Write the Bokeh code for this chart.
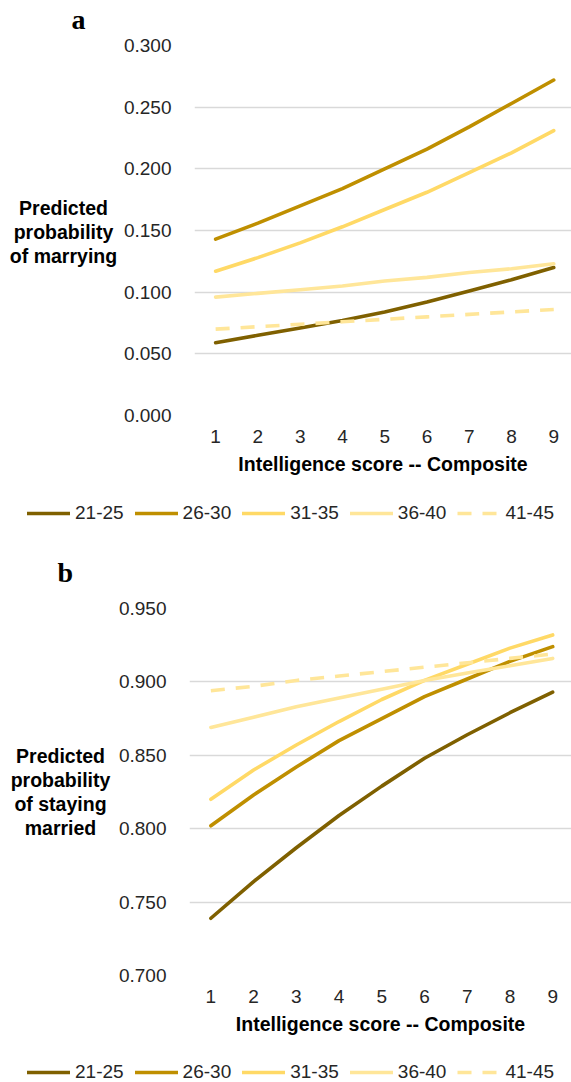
from bokeh.plotting import figure
from bokeh.models import (Range1d, FixedTicker, NumeralTickFormatter, Legend, LegendItem,
                          Label, ColumnDataSource)
from bokeh.layouts import column, row
from bokeh.embed import file_html
from bokeh.resources import INLINE

scores = [1, 2, 3, 4, 5, 6, 7, 8, 9]
groups = ["21-25", "26-30", "31-35", "36-40", "41-45"]

# Panel a: predicted probability of marrying
marry_21_25 = [0.059, 0.065, 0.071, 0.077, 0.084, 0.092, 0.101, 0.110, 0.120]
marry_26_30 = [0.143, 0.156, 0.170, 0.184, 0.200, 0.216, 0.234, 0.253, 0.272]
marry_31_35 = [0.117, 0.128, 0.140, 0.153, 0.167, 0.181, 0.197, 0.213, 0.231]
marry_36_40 = [0.096, 0.099, 0.102, 0.105, 0.109, 0.112, 0.116, 0.119, 0.123]
marry_41_45 = [0.070, 0.072, 0.074, 0.076, 0.078, 0.080, 0.082, 0.084, 0.086]

# Panel b: predicted probability of staying married
stay_21_25 = [0.739, 0.764, 0.787, 0.809, 0.829, 0.848, 0.864, 0.879, 0.893]
stay_26_30 = [0.802, 0.823, 0.842, 0.860, 0.875, 0.890, 0.902, 0.914, 0.924]
stay_31_35 = [0.820, 0.840, 0.857, 0.873, 0.888, 0.901, 0.912, 0.923, 0.932]
stay_36_40 = [0.869, 0.876, 0.883, 0.889, 0.895, 0.901, 0.906, 0.911, 0.916]
stay_41_45 = [0.894, 0.897, 0.901, 0.904, 0.907, 0.910, 0.913, 0.916, 0.919]

y_ticks_a = [0.0, 0.05, 0.10, 0.15, 0.20, 0.25, 0.30]
y_ticks_b = [0.70, 0.75, 0.80, 0.85, 0.90, 0.95]

colors = ["#7F6000", "#BF8F00", "#FFD966", "#FFE699", "#FFE699"]
dashes = ["solid", "solid", "solid", "solid", "14 11"]

FONT = "Liberation Sans"
SERIF = "Liberation Serif"


def blank_fig(width, height, border_top=0, border_bottom=0, x0=0):
    f = figure(width=width, height=height, output_backend="svg", toolbar_location=None,
               x_axis_location=None, y_axis_location=None,
               x_range=Range1d(x0, x0 + width), y_range=Range1d(0, height),
               min_border_left=0, min_border_right=0,
               min_border_top=border_top, min_border_bottom=border_bottom,
               background_fill_color="white", border_fill_color="white")
    f.outline_line_color = None
    f.grid.visible = False
    return f


def chart(series, width, height, border_left, border_top, border_bottom, x_end, y_range,
          y_ticks):
    p = figure(width=width, height=height, output_backend="svg", toolbar_location=None,
               x_range=Range1d(0.5, x_end), y_range=Range1d(*y_range),
               min_border_left=border_left, min_border_right=0,
               min_border_top=border_top, min_border_bottom=border_bottom,
               background_fill_color="white", border_fill_color="white")
    p.outline_line_color = None
    p.xgrid.grid_line_color = None
    p.ygrid.grid_line_color = "#D9D9D9"
    p.ygrid.grid_line_width = 1.5
    p.ygrid.ticker = FixedTicker(ticks=y_ticks)

    for vals, c, d in zip(series, colors, dashes):
        src = ColumnDataSource(dict(x=scores, y=vals))
        p.line("x", "y", source=src, line_color=c, line_width=3.6, line_dash=d,
               line_cap="round" if d == "solid" else "butt")

    xa = p.xaxis[0]
    xa.ticker = FixedTicker(ticks=scores)
    xa.axis_line_color = None
    xa.major_tick_line_color = None
    xa.minor_tick_line_color = None
    xa.major_label_text_font = FONT
    xa.major_label_text_font_size = "19px"
    xa.major_label_text_color = "#262626"
    xa.major_label_standoff = 8
    xa.axis_label = "Intelligence score -- Composite"
    xa.axis_label_text_font = FONT
    xa.axis_label_text_font_style = "bold"
    xa.axis_label_text_font_size = "19.5px"
    xa.axis_label_text_color = "#000000"
    xa.axis_label_standoff = 7

    ya = p.yaxis[0]
    ya.ticker = FixedTicker(ticks=y_ticks)
    ya.formatter = NumeralTickFormatter(format="0.000")
    ya.axis_line_color = None
    ya.major_tick_line_color = None
    ya.minor_tick_line_color = None
    ya.major_label_text_font = FONT
    ya.major_label_text_font_size = "19px"
    ya.major_label_text_color = "#262626"
    ya.major_label_standoff = 17
    return p


def letter_fig(height, letter, x, y_mid_from_bottom):
    f = blank_fig(571, height)
    f.add_layout(Label(x=x, y=y_mid_from_bottom, x_units="screen", y_units="screen",
                       text=letter, text_font=SERIF, text_font_style="bold",
                       text_font_size="28px", text_color="#000000",
                       text_align="left", text_baseline="middle"))
    return f


def side_title(width, height, border_top, border_bottom, title, x, y_above_bottom):
    f = blank_fig(width, height, border_top, border_bottom)
    f.add_layout(Label(x=x, y=y_above_bottom, x_units="screen", y_units="screen",
                       text=title, text_font=FONT, text_font_style="bold",
                       text_font_size="19.5px", text_color="#000000",
                       text_align="center", text_baseline="middle",
                       text_line_height=1.08))
    return f


def legend_fig(height, series, loc):
    # ranges are placed away from the data so only the legend is seen
    f = blank_fig(571, height, x0=100)
    items = []
    for g, vals, c, d in zip(groups, series, colors, dashes):
        src = ColumnDataSource(dict(x=scores, y=vals))
        r = f.line("x", "y", source=src, line_color=c, line_width=3.6, line_dash=d,
                   line_cap="round" if d == "solid" else "butt")
        items.append(LegendItem(label=g, renderers=[r]))
    legend = Legend(items=items, orientation="horizontal", location=loc,
                    glyph_width=43, glyph_height=20, label_height=20,
                    label_standoff=5, spacing=11, padding=0, margin=0,
                    border_line_color=None, background_fill_alpha=0,
                    label_text_font=FONT, label_text_font_size="19px",
                    label_text_color="#262626")
    f.add_layout(legend, "center")
    return f


series_a = [marry_21_25, marry_26_30, marry_31_35, marry_36_40, marry_41_45]
series_b = [stay_21_25, stay_26_30, stay_31_35, stay_36_40, stay_41_45]

# ---- panel a ----
hA = letter_fig(35, "a", 71, 16.5)
tA = side_title(120, 457, 10, 77, "Predicted\nprobability\nof marrying", 63, 183.5)
cA = chart(series_a, width=451, height=457, border_left=71, border_top=10, border_bottom=77,
           x_end=9.42, y_range=(0.0, 0.30), y_ticks=y_ticks_a)
lA = legend_fig(40, series_a, (27, 8))

# ---- panel b ----
hB = letter_fig(56, "b", 57, 16.5)
tB = side_title(115, 462, 20, 75, "Predicted\nprobability\nof staying\nmarried", 60, 183.5)
cB = chart(series_b, width=456, height=462, border_left=69, border_top=20, border_bottom=75,
           x_end=9.44, y_range=(0.70, 0.95), y_ticks=y_ticks_b)
lB = legend_fig(32, series_b, (27, -1))

layout = column(hA, row(tA, cA, spacing=0), lA, hB, row(tB, cB, spacing=0), lB, spacing=0)
open("out.html", "w").write(file_html(layout, INLINE))
